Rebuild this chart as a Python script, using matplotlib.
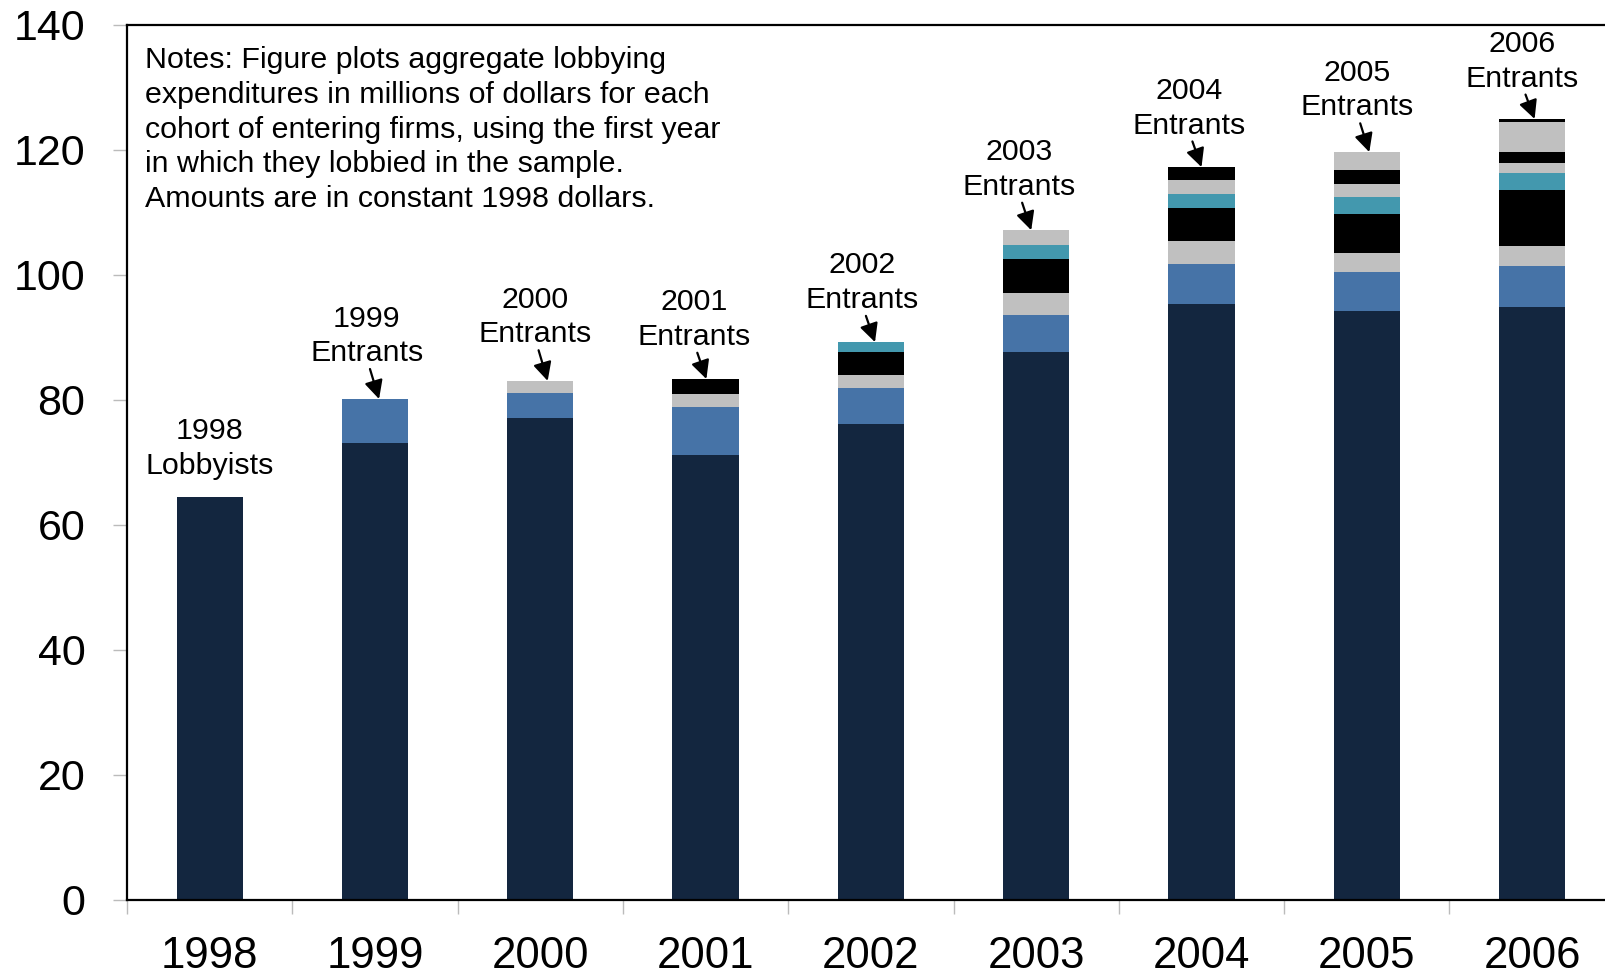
import matplotlib
matplotlib.use("Agg")
import matplotlib.pyplot as plt
import numpy as np

plt.rcParams['font.family'] = ['Liberation Sans', 'DejaVu Sans']

years = ['1998', '1999', '2000', '2001', '2002', '2003', '2004', '2005', '2006']
cohorts = ['1998', '1999', '2000', '2001', '2002', '2003', '2004', '2005', '2006']
c1998 = [64.5, 73.0, 77.1, 71.2, 76.1, 87.7, 95.3, 94.2, 94.8]
c1999 = [0, 7.1, 4.0, 7.6, 5.8, 5.9, 6.4, 6.2, 6.6]
c2000 = [0, 0, 1.9, 2.1, 2.0, 3.5, 3.7, 3.0, 3.2]
c2001 = [0, 0, 0, 2.4, 3.8, 5.4, 5.2, 6.3, 9.0]
c2002 = [0, 0, 0, 0, 1.5, 2.3, 2.3, 2.7, 2.7]
c2003 = [0, 0, 0, 0, 0, 2.3, 2.2, 2.1, 1.6]
c2004 = [0, 0, 0, 0, 0, 0, 2.1, 2.2, 1.7]
c2005 = [0, 0, 0, 0, 0, 0, 0, 2.9, 4.8]
c2006 = [0, 0, 0, 0, 0, 0, 0, 0, 0.5]
series = [c1998, c1999, c2000, c2001, c2002, c2003, c2004, c2005, c2006]
colors = ['#13263f', '#4673a7', '#c0c0c0', '#000000', '#4398ae',
          '#c0c0c0', '#000000', '#c0c0c0', '#000000']
notes = ("Notes: Figure plots aggregate lobbying\n"
         "expenditures in millions of dollars for each\n"
         "cohort of entering firms, using the first year\n"
         "in which they lobbied in the sample.\n"
         "Amounts are in constant 1998 dollars.")

# label layout (offsets from bar centre / bar top)
lab_dx = [0.0, -0.05, -0.03, -0.07, -0.05, -0.105, -0.075, -0.06, -0.06]
lab_dy = [7.7, 10.1, 10.2, 9.5, 9.5, 9.7, 9.4, 9.9, 9.2]

fig = plt.figure(figsize=(16.05, 9.74), dpi=100)
ax = fig.add_axes([0.0791, 0.0762, 0.927, 0.8986])

x = np.arange(len(years))
bottom = np.zeros(len(years))
for vals, col in zip(series, colors):
    v = np.array(vals, dtype=float)
    ax.bar(x, v, width=0.4, bottom=bottom, color=col, linewidth=0)
    bottom += v
tops = bottom.copy()

ax.set_xlim(-0.5, 8.5)
ax.set_ylim(0, 140)
ax.set_yticks(np.arange(0, 141, 20))
ax.tick_params(axis='y', length=10, width=1, color='#bbbbbb', pad=20, labelsize=31)
ax.set_xticks(x)
ax.set_xticklabels(years)
ax.tick_params(axis='x', which='major', length=0, pad=26, labelsize=31.5)
ax.set_xticks(np.arange(-0.5, 8.6, 1.0), minor=True)
ax.tick_params(axis='x', which='minor', length=10, width=1, color='#bbbbbb', direction='out')
for s in ['left', 'bottom', 'top', 'right']:
    ax.spines[s].set_linewidth(1.6)
    ax.spines[s].set_color('black')

fs = 21.9
ls = 1.30
for i, c in enumerate(cohorts):
    top = tops[i]
    tx = i + lab_dx[i]
    ty = top + lab_dy[i]
    if i == 0:
        ax.text(tx, ty, "1998\nLobbyists", ha='center', va='center',
                fontsize=fs, linespacing=ls)
        continue
    ax.text(tx, ty, f"{c}\nEntrants", ha='center', va='center',
            fontsize=fs, linespacing=ls)
    ax.annotate('', xy=(tx + 0.075, top), xytext=(tx + 0.02, ty - 5.3),
                arrowprops=dict(arrowstyle='-|>', color='black', lw=1.6,
                                mutation_scale=28, shrinkA=0, shrinkB=0))

ax.text(0.012, 0.975, notes, transform=ax.transAxes, ha='left', va='top',
        fontsize=fs, linespacing=ls)

fig.savefig('out.png', dpi=100)
